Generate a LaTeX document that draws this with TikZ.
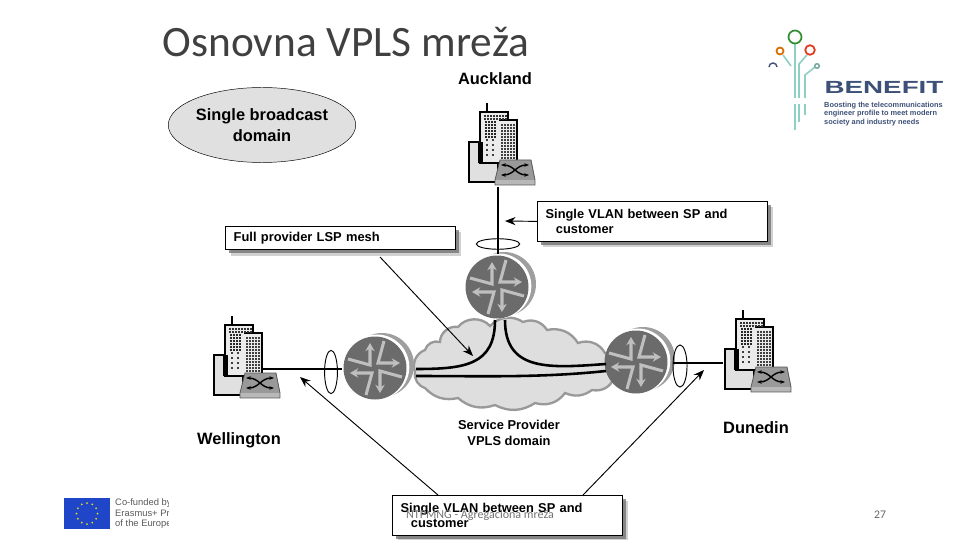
\documentclass[tikz,border=0pt]{standalone}
\usepackage{fontspec}
\setmainfont{Liberation Sans}
\newfontfamily\slidefont{Carlito}
\usetikzlibrary{shapes.geometric,shadows,arrows.meta}
\definecolor{brandnavy}{HTML}{3D5078}
\definecolor{brandteal}{HTML}{8FD0C4}
\definecolor{euroblue}{HTML}{1F45C8}
\tikzset{
  x=.03cm, y=-.03cm,
  callout/.style={draw=black, fill=white, thick, anchor=north west, align=left, text width=182pt, inner xsep=7pt, inner ysep=0pt,
    drop shadow={shadow xshift=5pt, shadow yshift=-5pt, fill=black!40, opacity=.45},
    drop shadow={shadow xshift=3pt, shadow yshift=-3pt, fill=black!60, opacity=.7}},
  place/.style={font=\fontsize{14}{16}\selectfont\bfseries, inner sep=0pt},
  note/.style={font=\fontsize{11}{14}\selectfont\bfseries, align=center, inner sep=0pt},
  pointer/.style={-{Stealth[length=9pt,width=7pt]}, color=black, line width=.8pt},
  trunk/.style={color=black, line width=2.2pt},
  tail/.style={color=black, line width=1.4pt},
  ring/.style={draw=black, thick},
  router/.pic={
    \fill[color=black!38] (7,-3) circle (32);
    \fill[color=white] (1.8,-1) circle (32.5);
    \fill[color=black!58] (0,0) circle (31.5);
    \foreach \a in {0,90,180,270}
      \draw[rotate=\a, color=black!25, line width=2.6pt, -{Stealth[length=7pt,width=8pt]}] (-27,-9) -- (-5,-3) -- (-5,-25);
  },
  building/.pic={
    \draw[color=black, line width=1pt] (19,0) -- (19,9);
    \draw[fill=black!12, line width=1.5pt] (1,79) -- (1,39) -- (12,39) -- (12,60) -- (30,60) -- (30,79) -- cycle;
    \draw[fill=black!8, line width=1.5pt] (12,60) -- (12,9) -- (40,9) -- (40,17) -- (49,17) -- (49,60) -- cycle;
    \draw[color=black, line width=1.2pt] (31,17) -- (40,17);
    \fill[color=black] (10,39) rectangle (15,60);
    \foreach \u in {16,19,...,37} \foreach \v in {12,15} \fill[color=black!80] (\u,\v) rectangle +(2.2,2.2);
    \foreach \u in {17,20,23,26} \foreach \v in {18,21,...,33} \fill[color=black!85] (\u,\v) rectangle +(2.2,2.2);
    \foreach \u in {18,24} \foreach \v in {36,41,46,51} \fill[color=black!75] (\u,\v) rectangle +(2.2,2.2);
    \foreach \u in {33,36,...,45} \foreach \v in {21,24,...,54} \fill[color=black!75] (\u,\v) rectangle +(2.2,1.8);
    \fill[color=black!40] (32,57) -- (63,57) -- (67,77) -- (27,77) -- cycle;
    \fill[color=black!28] (27,77) rectangle (67,82);
    \draw[color=black!65, line width=.7pt] (32,57) -- (63,57) -- (67,77) -- (67,82) -- (27,82) -- (27,77) -- cycle;
    \draw[color=black, line width=1.2pt, {Stealth[length=4pt]}-{Stealth[length=4pt]}] (33,62) .. controls (46,62) and (48,72) .. (61,72);
    \draw[color=black, line width=1.2pt, {Stealth[length=4pt]}-{Stealth[length=4pt]}] (33,72) .. controls (46,72) and (48,62) .. (61,62);
  }
}
\begin{document}
\begin{tikzpicture}
\useasboundingbox (0,0) rectangle (960,540);
% title and footer
\node (title) at (346,42) [font=\slidefont\fontsize{37}{40}\selectfont, color=black!75, inner sep=0pt] {Osnovna VPLS mreža};
% domain ellipse
\node (domain) at (262,125) [ellipse, draw=black, fill=black!12, minimum width=160pt, minimum height=64pt, inner sep=0pt, align=center, font=\fontsize{14}{18}\selectfont\bfseries] {Single broadcast\\domain};
% cloud
\draw[color=black!40, fill=black!13, line width=2pt] (415,372) to[bend left=45] (425,350) to[bend left=45] (440,342) to[bend left=50] (458,327) to[bend left=50] (490,326) to[bend left=40] (523,322) to[bend left=40] (547,330) to[bend left=35] (578,343) to[bend left=40] (605,353) to[bend left=35] (614,378) to[bend left=40] (592,390) to[bend left=30] (565,393) to[bend left=35] (535,403) to[bend left=30] (495,405) to[bend left=30] (458,398) to[bend left=30] (425,388) to[bend left=40] cycle;
% routers and sites
\pic (rtrTop) at (497,287) {router};
\pic (rtrLeft) at (375,368) {router};
\pic (rtrRight) at (636,362) {router};
\pic (siteAuck) at (468,103) {building};
\pic (siteWell) at (213,316) {building};
\pic (siteDune) at (724,310) {building};
\coordinate (auckPort) at (498,187);
\coordinate (topPort) at (498,254);
\coordinate (wellPort) at (262,369);
\coordinate (leftPort) at (342,369);
\coordinate (dunePort) at (723,363);
\coordinate (rightPort) at (673,363);
\coordinate (leftIn) at (416,369);
\coordinate (leftLow) at (416,376);
\coordinate (rightIn) at (606,364);
\coordinate (rightLow) at (606,371);
\coordinate (topInL) at (495,320);
\coordinate (topInR) at (505,320);
\draw[trunk] (auckPort) -- (topPort);
\draw[tail] (wellPort) -- (leftPort);
\draw[tail] (dunePort) -- (rightPort);
\draw[trunk] (leftIn) .. controls (465,369) and (495,365) .. (topInL);
\draw[trunk] (rightIn) .. controls (550,368) and (505,372) .. (topInR);
\draw[trunk] (leftLow) .. controls (480,376) and (540,378) .. (rightLow);
% rings round the links
\node (ringTop) at (498,244) [ellipse, ring, minimum width=37pt, minimum height=9pt, inner sep=0pt] {};
\node (ringLeft) at (331,372) [ellipse, ring, minimum width=11pt, minimum height=37pt, inner sep=0pt] {};
\node (ringRight) at (680,366) [ellipse, ring, minimum width=12pt, minimum height=36pt, inner sep=0pt] {};
% labels
\node (auckland) at (495,79) [place] {Auckland};
\node (wellington) at (239,440) [place] {Wellington};
\node (dunedin) at (756,428) [place] {Dunedin};
\node (spdomain) at (509,433) [note] {Service Provider\\VPLS domain};
% callouts
\node (meshbox) at (225,226) [callout, minimum height=20pt, font=\fontsize{11}{14}\selectfont\bfseries] {Full provider LSP mesh};
\node (vlanTop) at (537,201) [callout, minimum height=34pt, font=\fontsize{10.95}{13.5}\selectfont\bfseries] {Single VLAN between SP and\\\hspace*{.8em}customer};
\node (vlanLow) at (392,495) [callout, minimum height=34pt, font=\fontsize{10.95}{13.5}\selectfont\bfseries] {Single VLAN between SP and\\\hspace*{.8em}customer};
\coordinate (meshFoot) at (380,257);
\coordinate (meshTip) at (473,356);
\coordinate (vlanTopTip) at (505,221);
\coordinate (lowFootL) at (438,495);
\coordinate (lowTipL) at (300,377);
\coordinate (lowFootR) at (583,495);
\coordinate (lowTipR) at (704,370);
\draw[pointer] (meshFoot) -- (meshTip);
\draw[pointer] (vlanTop.west) -- (vlanTopTip);
\draw[pointer] (lowFootL) -- (lowTipL);
\draw[pointer] (lowFootR) -- (lowTipR);
\node (footer) at (480,515) [font=\slidefont\fontsize{10.3}{12}\selectfont, color=black!55, inner sep=0pt] {NTPMNG - Agregaciona mreža};
\node (pagenum) at (880,515) [font=\slidefont\fontsize{10}{12}\selectfont, color=black!60, inner sep=0pt] {27};
% funding mark
\fill[color=euroblue] (64,498) rectangle (110,529);
\foreach \a in {0,30,...,330}
  \fill[color=yellow!90!black] (87,513.5) ++(\a:10.5) circle (1);
\begin{scope}
\clip (112,495) rectangle (168,532);
\node (fundA) at (115,503) [anchor=west, font=\fontsize{8}{8}\selectfont, color=black!65, inner sep=0pt] {Co-funded by};
\node (fundB) at (115,513) [anchor=west, font=\fontsize{8}{8}\selectfont, color=black!65, inner sep=0pt] {Erasmus+ Pr};
\node (fundC) at (115,524) [anchor=west, font=\fontsize{8}{8}\selectfont, color=black!65, inner sep=0pt] {of the Europe};
\end{scope}
% project logo
\draw[color=brandteal, line width=1.4pt] (795,43) -- (795,98);
\draw[color=brandteal, line width=1.4pt] (795,104) -- (795,130);
\draw[color=brandteal, line width=1.4pt] (783,55) -- (791,66);
\draw[color=brandteal, line width=1.4pt] (807,55) -- (799,64) -- (799,98);
\draw[color=brandteal, line width=1.4pt] (799,104) -- (799,122);
\draw[color=brandteal, line width=1.4pt] (815,67) -- (805,75) -- (805,98);
\draw[color=brandteal, line width=1.4pt] (805,104) -- (805,115);
\draw[color=green!45!black!80, line width=1.5pt] (795,37) circle (6.5);
\draw[color=orange!85!black, line width=1.5pt] (780,51) circle (3.5);
\draw[color=red!55!brown, line width=1.5pt] (810,50) circle (4.8);
\draw[color=brandteal!80!black, line width=1.2pt] (817,66) circle (2.3);
\draw[color=brandnavy, line width=1.2pt] (769,67) arc (180:360:4);
\node (benefit) at (884,87) [color=brandnavy, inner sep=0pt, font=\fontsize{15}{16}\selectfont\bfseries] {\scalebox{1.58}[1]{BENEFIT}};
\node (slogan) at (824,114) [anchor=west, color=brandnavy, inner sep=0pt, align=left, font=\fontsize{6.3}{7.4}\selectfont\bfseries] {Boosting the telecommunications\\engineer profile to meet modern\\society and industry needs};
\end{tikzpicture}
\end{document}
